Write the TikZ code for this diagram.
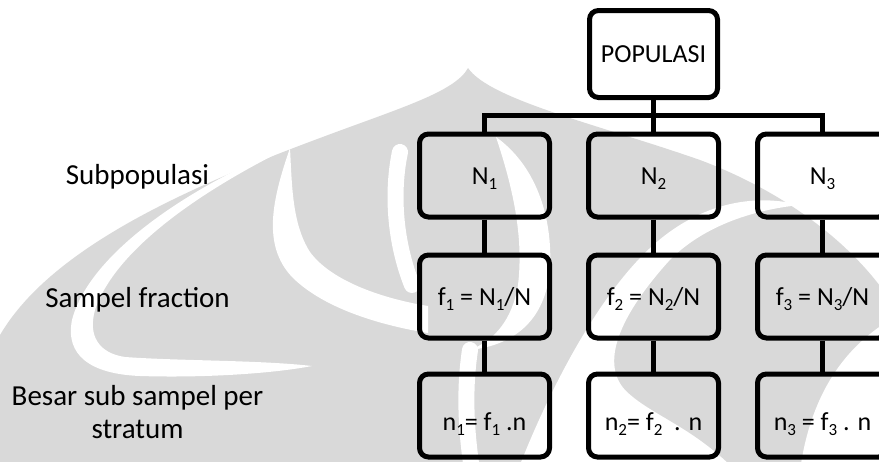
\documentclass[tikz,border=0pt]{standalone}
\usepackage{fontspec}
\setmainfont{Carlito}
\newcommand\boxfont{\fontsize{26}{31}\selectfont}
\newcommand\lblfont{\fontsize{29}{33}\selectfont}
% lowered index digits
\newcommand\ix[1]{\raisebox{-0.2em}{\fontsize{17}{17}\selectfont #1}}
% text sitting a little lower in the bottom row
\newcommand\dropped[1]{\raisebox{-6.5pt}{#1}}
\begin{document}
\begin{tikzpicture}[x=1pt,y=-1pt,
  box/.style={draw=black, line width=5pt, rounded corners=9pt,
    minimum width=130pt, minimum height=83pt, inner sep=0pt,
    text height=17pt, text depth=0pt, font=\boxfont},
  link/.style={draw=black, line width=5pt},
  lbl/.style={font=\lblfont, anchor=base, inner sep=0pt},
  wmgrey/.style={fill=black!15},
  wmgap/.style={fill=white},
  wmline/.style={draw=white, line width=16pt, line cap=round},
]
\useasboundingbox (0,0) rectangle (879,461);

% ---- faint background emblem ----
\begin{scope}
\clip (0,0) rectangle (879,461);
\path[wmgrey] (468,68) .. controls (455,92) and (400,108) .. (320,138)
  .. controls (180,190) and (50,250) .. (0,335) -- (0,470) -- (890,470)
  -- (890,300) .. controls (850,240) and (780,190) .. (700,160)
  .. controls (600,125) and (490,100) .. (468,68) -- cycle;
% outer crescent gap
\path[wmgap] (300,142) .. controls (200,180) and (90,250) .. (72,320)
  .. controls (65,355) and (90,374) .. (140,376)
  .. controls (200,378) and (270,374) .. (312,366)
  .. controls (260,360) and (180,361) .. (125,357)
  .. controls (98,353) and (88,335) .. (95,310)
  .. controls (115,250) and (200,190) .. (300,142) -- cycle;
% inner curve towards the middle
\path[wmgap] (290,148) .. controls (272,200) and (262,245) .. (292,277)
  .. controls (325,310) and (385,326) .. (428,333) -- (428,306)
  .. controls (385,299) and (332,282) .. (310,252)
  .. controls (292,224) and (292,185) .. (290,148) -- cycle;
\draw[wmline] (400,152) .. controls (392,190) and (394,240) .. (412,285);
\draw[wmline] (470,350) .. controls (464,390) and (466,430) .. (472,470);
% crescent in the left column
\path[wmgap] (496,137) .. controls (512,185) and (524,235) .. (518,285)
  .. controls (512,320) and (495,340) .. (470,350)
  .. controls (515,345) and (545,320) .. (550,270)
  .. controls (553,215) and (535,165) .. (496,137) -- cycle;
% large S-shaped gap, widening towards the bottom
\path[wmgap] (518,470) .. controls (545,400) and (590,310) .. (640,258)
  .. controls (690,205) and (750,192) .. (800,205)
  .. controls (750,210) and (700,228) .. (668,262)
  .. controls (625,310) and (598,360) .. (625,390)
  .. controls (650,415) and (690,425) .. (735,470) -- cycle;
\path[wmgap] (890,320) .. controls (840,350) and (810,400) .. (800,470)
  -- (890,470) -- cycle;
\end{scope}

% ---- tree ----
\node[box, minimum width=128pt, minimum height=87pt] (pop) at (653.5,54) {POPULASI};

\node[box] (a1) at (484.5,175.5) {N\ix{1}};
\node[box] (a2) at (653.5,175.5) {N\ix{2}};
\node[box] (a3) at (822.5,175.5) {N\ix{3}};

\node[box] (b1) at (484.5,296.5) {f\ix{1} = N\ix{1}/N};
\node[box] (b2) at (653.5,296.5) {f\ix{2} = N\ix{2}/N};
\node[box] (b3) at (822.5,296.5) {f\ix{3} = N\ix{3}/N};

\node[box] (c1) at (484.5,415.5) {\dropped{n\ix{1}= f\ix{1} .n}};
\node[box] (c2) at (653.5,415.5) {\dropped{n\ix{2}= f\ix{2} \ . n}};
\node[box] (c3) at (822.5,415.5) {\dropped{n\ix{3} = f\ix{3} . n}};

\coordinate (bus) at (653.5,115);
\draw[link] (pop.south) -- (a2.north);
\draw[link] (a1.north) |- (bus) -| (a3.north);
\foreach \i in {1,2,3} {
  \draw[link] (a\i.south) -- (b\i.north);
  \draw[link] (b\i.south) -- (c\i.north);
}

% ---- row captions ----
\node[lbl] (l1) at (137.5,184) {Subpopulasi};
\node[lbl] (l2) at (137.5,307) {Sampel fraction};
\node[lbl] (l3) at (137.5,405) {Besar sub sampel per};
\node[lbl] (l4) at (137.5,438) {stratum};
\end{tikzpicture}
\end{document}
